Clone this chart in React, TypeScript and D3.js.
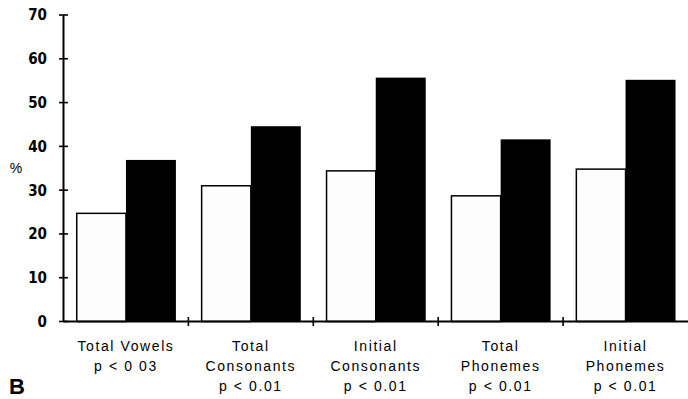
import React from "react";
import { scaleBand, scaleLinear } from "d3";

// chart data
const categories = ["Total Vowels", "Total Consonants", "Initial Consonants", "Total Phonemes", "Initial Phonemes"];
const labelLines = [
    ["Total Vowels", "p < 0 03"],
    ["Total", "Consonants", "p < 0.01"],
    ["Initial", "Consonants", "p < 0.01"],
    ["Total", "Phonemes", "p < 0.01"],
    ["Initial", "Phonemes", "p < 0.01"],
];
const seriesKeys = ["white", "black"];
const whiteValues = [24.7, 31.0, 34.4, 28.7, 34.8];
const blackValues = [36.9, 44.6, 55.7, 41.6, 55.2];
const yTicks = [0, 10, 20, 30, 40, 50, 60, 70];

const W = 688, H = 399;

function App() {
    const x = scaleBand().domain(categories).range([63.5, 688]).padding(0);
    const inner = scaleBand().domain(seriesKeys).range([0, x.bandwidth()]).paddingInner(0).paddingOuter(0.25);
    const y = scaleLinear().domain([0, 70]).range([321.5, 15]);

    const tickFont = "'DejaVu Sans Condensed', 'Liberation Sans Narrow', 'Liberation Sans', sans-serif";
    const labelFont = "'Liberation Sans', Arial, sans-serif";

    return (
        <svg width={W} height={H} style={{ position: "absolute", left: 0, top: 0, background: "#fff" }}>
            {/* bars */}
            {categories.map((c, i) => (
                <g key={c} transform={`translate(${x(c)},0)`}>
                    <rect
                        x={inner("white")! + 0.75}
                        y={y(whiteValues[i])}
                        width={inner.bandwidth() - 0.75}
                        height={y(0) - y(whiteValues[i])}
                        fill="#fdfdfd"
                        stroke="#000"
                        strokeWidth={1.5}
                    />
                    <rect
                        x={inner("black")}
                        y={y(blackValues[i])}
                        width={inner.bandwidth()}
                        height={y(0) - y(blackValues[i])}
                        fill="#000"
                    />
                </g>
            ))}

            {/* y axis */}
            <line x1={63.5} x2={63.5} y1={y(70)} y2={y(0)} stroke="#000" strokeWidth={2} />
            {yTicks.map(t => (
                <g key={t}>
                    <line x1={59} x2={68} y1={y(t)} y2={y(t)} stroke="#000" strokeWidth={1.6} />
                    <text x={47} y={y(t)} dy="0.36em" textAnchor="end" fontSize={15} fontWeight="bold"
                        fontFamily={tickFont}>{t}</text>
                </g>
            ))}
            <text x={16} y={168} dy="0.36em" textAnchor="middle" fontSize={14} fontFamily={labelFont}>%</text>

            {/* x axis */}
            <line x1={63.5} x2={688} y1={y(0)} y2={y(0)} stroke="#000" strokeWidth={2} />
            {categories.slice(1).map(c => (
                <line key={c} x1={x(c)} x2={x(c)} y1={y(0) - 4.5} y2={y(0) + 4.5} stroke="#000" strokeWidth={1.6} />
            ))}
            {categories.map((c, i) => {
                const lines = labelLines[i];
                const cx = x(c)! + x.bandwidth() / 2;
                return (
                    <text key={c} textAnchor="middle" fontSize={14} letterSpacing={1.6} fontFamily={labelFont} fill="#000">
                        {lines.map((ln, j) => (
                            <tspan key={j} x={cx} y={351 + j * 20}>{ln}</tspan>
                        ))}
                    </text>
                );
            })}

            <text x={9} y={394} fontSize={22} fontWeight="bold" fontFamily={labelFont}>B</text>
        </svg>
    );
}

export default App;
